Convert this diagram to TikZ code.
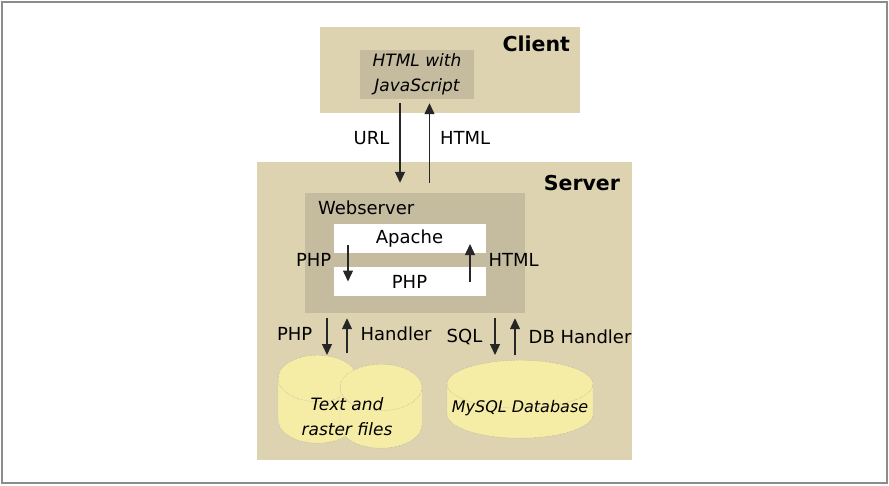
\documentclass[tikz,border=0pt]{standalone}
\usepackage{fontspec}
\setmainfont{DejaVu Sans}
\usepackage{xcolor}
\usetikzlibrary{arrows.meta}
\usetikzlibrary{positioning, shapes.geometric}

\definecolor{tierbg}{HTML}{DDD3B1}
\definecolor{boxbg}{HTML}{C5BB9F}
\definecolor{diskbg}{HTML}{F5EDA6}
\definecolor{framegray}{HTML}{8C8C8C}

\begin{document}
\begin{tikzpicture}[x=1pt,y=-1pt,
    every node/.style={font=\fontsize{18}{22}\selectfont, inner sep=0pt},
    tier/.style={fill=tierbg},
    inbox/.style={fill=boxbg},
    layer/.style={fill=white},
    title/.style={font=\fontsize{20.5}{24}\selectfont\bfseries},
    note/.style={font=\fontsize{17}{25}\selectfont\itshape, align=center},
    flow/.style={draw=black!85, line width=1.3pt, -{Triangle[length=11pt,width=10pt]}},
    disk/.style={cylinder, shape border rotate=90, anchor=north, inner sep=8pt,
        fill=diskbg, draw=gray!80, densely dotted, thin}]
        \useasboundingbox (0,0) rectangle (889,485);
        \draw[framegray, line width=2pt] (2,2) rectangle (887,483);

        \node[tier, minimum width=260pt, minimum height=86pt] (client) at (450,70) {};
        \node[title, anchor=east] (clientname) at ([xshift=-10pt,yshift=-17pt]client.north east) {Client};
        \node[inbox, note, minimum width=114pt, minimum height=49pt] (js) at (417,74.5) {HTML with\\JavaScript};

        \node[tier, minimum width=375pt, minimum height=298pt] (server) at (444.5,311) {};
        \node[title, anchor=east] (servername) at ([xshift=-12pt,yshift=-21pt]server.north east) {Server};
        \node[inbox, minimum width=220pt, minimum height=120pt] (web) at (415,253) {};
        \node[anchor=west] (webname) at ([xshift=13pt,yshift=-15pt]web.north west) {Webserver};
        \node[layer, minimum width=152pt, minimum height=29pt] (apache) at (409.5,238.5) {Apache};
        \node[layer, minimum width=152pt, minimum height=29pt] (php) at (409.5,281.5) {PHP};

        \node[disk, minimum width=79pt, minimum height=88pt, shape aspect=2.9] (files) at (317.5,355) {};
        \node[disk, minimum width=82pt, minimum height=84pt, shape aspect=2.9] (raster) at (381,364) {};
        \node[note] (filesname) at (347,417) {Text and\\raster files};
        \node[disk, minimum width=146pt, minimum height=78pt, shape aspect=3] (db) at (520,360) {};
        \node[note, font=\fontsize{16}{20}\selectfont\itshape] (dbname) at (520,408) {MySQL Database};

        \coordinate (urlout) at ([xshift=-17pt]js.south);
        \coordinate (htmlin) at ([xshift=12.5pt]js.south);
        \draw[flow, shorten <=4pt, shorten >=10pt] (urlout) -- (urlout |- web.north)
            node[pos=0.42, left=10pt] (urllabel) {URL};
        \draw[flow, shorten <=10pt, shorten >=4pt] (htmlin |- web.north) -- (htmlin)
            node[pos=0.585, right=10pt] (htmllabel) {HTML};

        \draw[flow, shorten <=6.5pt] ([xshift=-61.5pt]apache.center) -- ([xshift=-61.5pt]php.center)
            node[midway, left=16pt] (phpcall) {PHP};
        \draw[flow, shorten >=5.5pt] ([xshift=60.5pt]php.center) -- ([xshift=60.5pt]apache.center)
            node[midway, right=18pt] (htmlback) {HTML};

        \coordinate (phpout) at ([xshift=-88pt]web.south);
        \coordinate (handlerin) at ([xshift=-68pt]web.south);
        \coordinate (sqlout) at ([xshift=80pt]web.south);
        \coordinate (dbin) at ([xshift=100pt]web.south);
        \draw[flow, shorten <=5pt] (phpout) -- (phpout |- files.north)
            node[midway, left=14pt] (phpreq) {PHP};
        \draw[flow, shorten <=2pt, shorten >=5pt] (handlerin |- files.north) -- (handlerin)
            node[midway, right=13pt] (handlerlabel) {Handler};
        \draw[flow, shorten <=5pt, shorten >=5pt] (sqlout) -- (sqlout |- db.north)
            node[midway, left=12pt] (sqllabel) {SQL};
        \draw[flow, shorten <=5pt, shorten >=5pt] (dbin |- db.north) -- (dbin)
            node[midway, right=13pt] (dblabel) {DB Handler};
\end{tikzpicture}
\end{document}
